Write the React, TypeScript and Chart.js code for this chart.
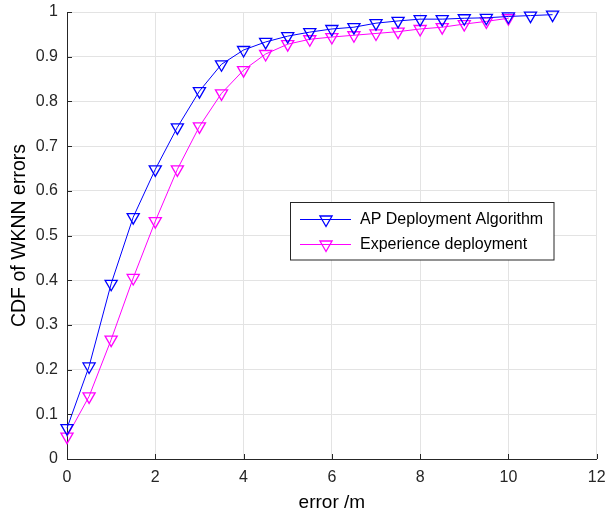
import React, { useEffect, useRef } from "react";
import { Chart, registerables } from "chart.js";

Chart.register(...registerables);

const apX = [0, 0.5, 1, 1.5, 2, 2.5, 3, 3.5, 4, 4.5, 5, 5.5, 6, 6.5, 7, 7.5, 8, 8.5, 9, 9.5, 10, 10.5, 11];
const apY = [0.069, 0.207, 0.392, 0.541, 0.648, 0.742, 0.823, 0.883, 0.915, 0.933, 0.946, 0.955, 0.962, 0.966, 0.975, 0.98, 0.984, 0.984, 0.986, 0.987, 0.99, 0.992, 0.994];

const expX = [0, 0.5, 1, 1.5, 2, 2.5, 3, 3.5, 4, 4.5, 5, 5.5, 6, 6.5, 7, 7.5, 8, 8.5, 9, 9.5, 10];
const expY = [0.05, 0.14, 0.267, 0.405, 0.532, 0.648, 0.744, 0.818, 0.87, 0.906, 0.928, 0.939, 0.944, 0.948, 0.952, 0.956, 0.962, 0.966, 0.973, 0.979, 0.986];

const seriesNames = ["AP Deployment Algorithm", "Experience deployment"];
const seriesColors = ["#0000ff", "#ff00ff"];

const xTicks = [0, 2, 4, 6, 8, 10, 12];
const xTickLabels = ["0", "2", "4", "6", "8", "10", "12"];
const yTicks = [0, 0.1, 0.2, 0.3, 0.4, 0.5, 0.6, 0.7, 0.8, 0.9, 1];
const yTickLabels = ["0", "0.1", "0.2", "0.3", "0.4", "0.5", "0.6", "0.7", "0.8", "0.9", "1"];

const xTitle = "error /m";
const yTitle = "CDF of WKNN errors";

const FONT = "'Liberation Sans', Arial, Helvetica, sans-serif";
const TEXT = "#262626";
const GRID = "#e3e3e3";

const innerTicks = {
  id: "innerTicks",
  afterDraw(chart: any) {
    const { ctx, chartArea, scales } = chart;
    ctx.save();
    ctx.strokeStyle = TEXT;
    ctx.lineWidth = 1;
    ctx.beginPath();
    for (const v of xTicks) {
      const px = Math.round(scales.x.getPixelForValue(v)) + 0.5;
      ctx.moveTo(px, chartArea.bottom);
      ctx.lineTo(px, chartArea.bottom - 5);
    }
    for (const v of yTicks) {
      const py = Math.round(scales.y.getPixelForValue(v)) + 0.5;
      ctx.moveTo(chartArea.left, py);
      ctx.lineTo(chartArea.left + 5, py);
    }
    ctx.stroke();
    ctx.restore();
  },
};

const boxLegend = {
  id: "boxLegend",
  afterDraw(chart: any) {
    const { ctx } = chart;
    const bx = 290.5, by = 202.5, bw = 263.5, bh = 57.5;
    ctx.save();
    ctx.fillStyle = "#ffffff";
    ctx.fillRect(bx, by, bw, bh);
    ctx.strokeStyle = TEXT;
    ctx.lineWidth = 1;
    ctx.strokeRect(bx, by, bw, bh);
    const rows = [219.5, 244.5];
    chart.data.datasets.forEach((ds: any, i: number) => {
      const y = rows[i];
      ctx.strokeStyle = ds.borderColor;
      ctx.lineWidth = 1;
      ctx.beginPath();
      ctx.moveTo(300, y);
      ctx.lineTo(351, y);
      ctx.stroke();
      ctx.lineWidth = 1.3;
      ctx.beginPath();
      const r = 7;
      const cx = 326;
      // downward triangle
      ctx.moveTo(cx, y + r);
      ctx.lineTo(cx - r * Math.sqrt(3) / 2, y - r / 2);
      ctx.lineTo(cx + r * Math.sqrt(3) / 2, y - r / 2);
      ctx.closePath();
      ctx.stroke();
      ctx.fillStyle = "#000000";
      ctx.font = `16px ${FONT}`;
      ctx.textBaseline = "middle";
      ctx.textAlign = "left";
      ctx.fillText(ds.label, 360, y);
    });
    ctx.restore();
  },
};

export default function App() {
  const ref = useRef<HTMLCanvasElement | null>(null);
  useEffect(() => {
    if (!ref.current) return;
    const mk = (xs: number[], ys: number[]) => xs.map((x, i) => ({ x, y: ys[i] }));
    const chart = new Chart(ref.current, {
      type: "line",
      data: {
        datasets: [
          {
            label: seriesNames[0],
            data: mk(apX, apY),
            borderColor: seriesColors[0],
            backgroundColor: "transparent",
            pointBackgroundColor: "transparent",
            pointBorderColor: seriesColors[0],
          },
          {
            label: seriesNames[1],
            data: mk(expX, expY),
            borderColor: seriesColors[1],
            backgroundColor: "transparent",
            pointBackgroundColor: "transparent",
            pointBorderColor: seriesColors[1],
          },
        ].map((d) => ({
          ...d,
          borderWidth: 1,
          pointStyle: "triangle",
          rotation: 180,
          pointRadius: 7,
          pointHoverRadius: 7,
          pointBorderWidth: 1.3,
          tension: 0,
          clip: false as any,
        })),
      },
      options: {
        animation: false,
        responsive: false,
        devicePixelRatio: 1,
        events: [],
        layout: { padding: { left: 0, right: 8, top: 12, bottom: 0 } },
        plugins: { legend: { display: false }, tooltip: { enabled: false } },
        scales: {
          x: {
            type: "linear",
            min: 0,
            max: 12,
            afterBuildTicks: (s: any) => {
              s.ticks = xTicks.map((v) => ({ value: v }));
            },
            afterFit: (s: any) => {
              s.height = 58;
              s.paddingLeft = 0;
              s.paddingRight = 0;
            },
            ticks: {
              callback: (_v: any, i: number) => xTickLabels[i],
              font: { family: FONT, size: 16 },
              color: TEXT,
              padding: 9,
              maxRotation: 0,
            },
            grid: { color: GRID, lineWidth: 1, drawTicks: false },
            border: { display: true, color: TEXT, width: 1 },
            title: {
              display: true,
              text: xTitle,
              font: { family: FONT, size: 19 },
              color: "#000000",
              padding: { top: 0, bottom: 3 },
            },
          },
          y: {
            type: "linear",
            min: 0,
            max: 1,
            afterBuildTicks: (s: any) => {
              s.ticks = yTicks.map((v) => ({ value: v }));
            },
            afterFit: (s: any) => {
              s.width = 67;
              s.paddingTop = 0;
              s.paddingBottom = 0;
            },
            ticks: {
              callback: (_v: any, i: number) => yTickLabels[i],
              font: { family: FONT, size: 16 },
              color: TEXT,
              padding: 9,
            },
            grid: { color: GRID, lineWidth: 1, drawTicks: false },
            border: { display: true, color: TEXT, width: 1 },
            title: {
              display: true,
              text: yTitle,
              font: { family: FONT, size: 19.5 },
              color: "#000000",
              padding: { top: 8, bottom: 0 },
            },
          },
        },
      },
      plugins: [innerTicks, boxLegend],
    } as any);
    return () => chart.destroy();
  }, []);
  return (
    <div style={{ position: "absolute", left: 0, top: 0, width: 605, height: 517, background: "#fff" }}>
      <canvas ref={ref} width={605} height={517} style={{ width: 605, height: 517, display: "block" }} />
    </div>
  );
}
